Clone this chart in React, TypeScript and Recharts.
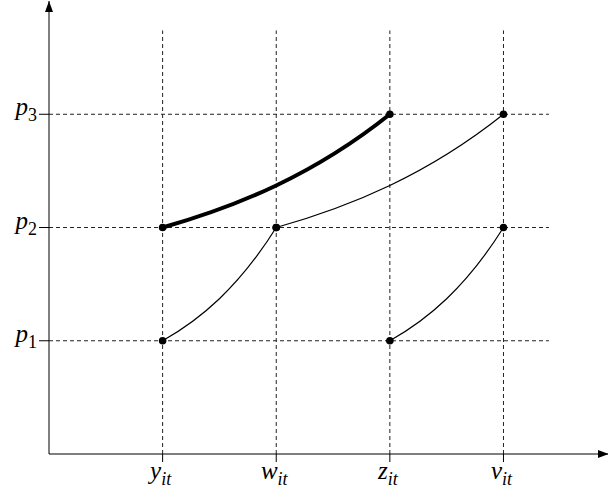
import { ComposedChart, Line, XAxis, YAxis, ReferenceLine, ReferenceDot } from 'recharts';

// grid positions along each axis (the symbols sit at 1..4 and 1..3)
const xTicks = [1, 2, 3, 4];
const xNames = ['y', 'w', 'z', 'v'];
const pTicks = [1, 2, 3];
const pNames = ['1', '2', '3'];

// each curve joins two grid points
const curveA = [{ x: 1, y: 1 }, { x: 2, y: 2 }];
const curveB = [{ x: 3, y: 1 }, { x: 4, y: 2 }];
const curveC = [{ x: 2, y: 2 }, { x: 4, y: 3 }];
const curveBold = [{ x: 1, y: 2 }, { x: 3, y: 3 }];

const X_MAX = 4.92;
const Y_MAX = 4.0;
const GRID_X_END = 4.4;
const GRID_Y_END = 3.74;

const FONT = '"Liberation Serif", "DejaVu Serif", serif';

// convex bend: shallow at the start, steep at the end (like an exponential)
const bentCurve = (ctx: any) => {
  let pts: [number, number][] = [];
  return {
    areaStart() {},
    areaEnd() {},
    lineStart() {
      pts = [];
    },
    point(x: number, y: number) {
      pts.push([+x, +y]);
    },
    lineEnd() {
      if (!pts.length) return;
      ctx.moveTo(pts[0][0], pts[0][1]);
      for (let i = 1; i < pts.length; i++) {
        const [x0, y0] = pts[i - 1];
        const [x1, y1] = pts[i];
        const dx = x1 - x0;
        const dy = y1 - y0;
        ctx.bezierCurveTo(x0 + dx / 3, y0 + (dy * 0.57) / 3, x1 - dx / 3, y1 - (dy * 1.6) / 3, x1, y1);
      }
    },
  };
};

const XTick = (props: any) => {
  const { x, y, payload } = props;
  const i = xTicks.indexOf(payload.value);
  return (
    <text x={x - 2} y={y + 15} textAnchor="middle" fontFamily={FONT} fontStyle="italic" fontSize={25} fill="#000">
      {xNames[i]}
      <tspan fontSize={18} dy={6}>it</tspan>
    </text>
  );
};

const YTick = (props: any) => {
  const { y, payload } = props;
  const i = pTicks.indexOf(payload.value);
  return (
    <text x={37} y={y + 1} textAnchor="end" fontFamily={FONT} fontSize={25} fill="#000">
      <tspan fontStyle="italic">p</tspan>
      <tspan fontSize={18} dy={6}>{pNames[i]}</tspan>
    </text>
  );
};

const ArrowRight = (props: any) => {
  const { cx, cy } = props;
  return <polygon points={`${cx + 1},${cy} ${cx - 10},${cy - 4} ${cx - 10},${cy + 4}`} fill="#000" />;
};

const ArrowUp = (props: any) => {
  const { cx, cy } = props;
  return <polygon points={`${cx},${cy} ${cx - 4},${cy + 11} ${cx + 4},${cy + 11}`} fill="#000" />;
};

const dotStyle = { r: 3.8, fill: '#000', stroke: 'none' };

export default function App() {
  return (
    <div style={{ position: 'fixed', left: 0, top: 0, background: '#fff' }}>
      <ComposedChart width={608} height={494} margin={{ top: 1, right: 0, bottom: 0, left: 0 }}>
        <XAxis
          type="number"
          dataKey="x"
          domain={[0, X_MAX]}
          ticks={xTicks}
          height={40}
          tickSize={8}
          axisLine={{ stroke: '#000', strokeWidth: 1 }}
          tickLine={{ stroke: '#000' }}
          tick={<XTick />}
          allowDataOverflow
        />
        <YAxis
          type="number"
          dataKey="y"
          domain={[0, Y_MAX]}
          ticks={pTicks}
          width={49}
          tickSize={10}
          axisLine={{ stroke: '#000', strokeWidth: 1 }}
          tickLine={{ stroke: '#000' }}
          tick={<YTick />}
          allowDataOverflow
        />
        {xTicks.map((v) => (
          <ReferenceLine
            key={'vx' + v}
            segment={[{ x: v, y: 0 }, { x: v, y: GRID_Y_END }]}
            stroke="#222"
            strokeDasharray="4 3"
          />
        ))}
        {pTicks.map((v) => (
          <ReferenceLine
            key={'hy' + v}
            segment={[{ x: 0, y: v }, { x: GRID_X_END, y: v }]}
            stroke="#222"
            strokeDasharray="4 3"
          />
        ))}
        <Line data={curveA} dataKey="y" type={bentCurve as any} stroke="#000" strokeWidth={1.2} dot={dotStyle} isAnimationActive={false} />
        <Line data={curveB} dataKey="y" type={bentCurve as any} stroke="#000" strokeWidth={1.2} dot={dotStyle} isAnimationActive={false} />
        <Line data={curveC} dataKey="y" type={bentCurve as any} stroke="#000" strokeWidth={1.2} dot={dotStyle} isAnimationActive={false} />
        <Line data={curveBold} dataKey="y" type={bentCurve as any} stroke="#000" strokeWidth={4} dot={dotStyle} isAnimationActive={false} />
        <ReferenceDot x={X_MAX} y={0} ifOverflow="visible" shape={<ArrowRight />} />
        <ReferenceDot x={0} y={Y_MAX} ifOverflow="visible" shape={<ArrowUp />} />
      </ComposedChart>
    </div>
  );
}
